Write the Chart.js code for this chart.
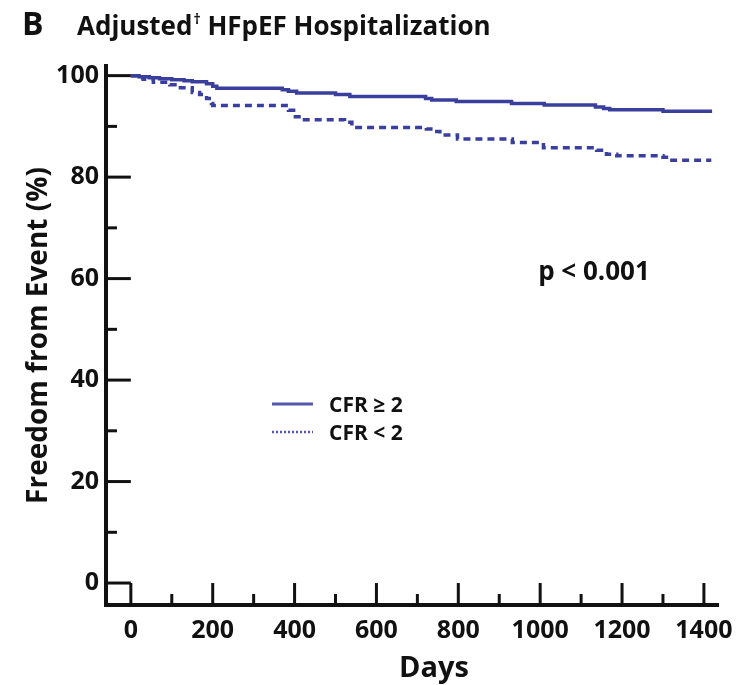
<!DOCTYPE html>
<html><head><meta charset="utf-8">
<script src="https://cdn.jsdelivr.net/npm/chart.js@4.4.0/dist/chart.umd.min.js"></script>
<style>html,body{margin:0;padding:0;background:#fff;}#wrap{width:744px;height:685px;}</style>
</head><body><div id="wrap"><canvas id="c" width="744" height="685"></canvas></div>
<script>
// ---- text ----
const panelLetter = 'B';
const titleMain = 'Adjusted';
const titleMark = '\u2020';
const titleRest = ' HFpEF Hospitalization';
const xAxisTitle = 'Days';
const yAxisTitle = 'Freedom from Event (%)';
const pValueText = 'p < 0.001';
const seriesNames = ['CFR \u2265 2', 'CFR < 2'];

// ---- ticks ----
const xTickValues = [0, 200, 400, 600, 800, 1000, 1200, 1400];
const yTickValues = [0, 20, 40, 60, 80, 100];
const xMinorTicks = [0, 100, 200, 300, 400, 500, 600, 700, 800, 900, 1000, 1100, 1200, 1300, 1400];
const yMinorTicks = [0, 10, 20, 30, 40, 50, 60, 70, 80, 90, 100];

// ---- series (Kaplan-Meier steps) ----
const daysHigh = [0, 20, 45, 70, 100, 130, 150, 185, 200, 210, 370, 385, 405, 500, 535, 720, 735, 795, 930, 1010, 1135, 1155, 1170, 1300, 1420];
const survHigh = [100, 99.8, 99.6, 99.4, 99.2, 99.0, 98.8, 98.4, 97.9, 97.5, 97.2, 96.9, 96.6, 96.3, 95.9, 95.5, 95.2, 94.9, 94.5, 94.2, 93.8, 93.5, 93.3, 93.0, 93.0];
const daysLow = [0, 15, 30, 55, 95, 115, 150, 168, 185, 197, 200, 385, 402, 418, 522, 540, 722, 738, 755, 798, 932, 1008, 1138, 1162, 1187, 1300, 1316, 1418];
const survLow = [100, 99.6, 99.3, 98.7, 98.2, 97.6, 96.7, 96.3, 95.5, 94.5, 94.1, 93.2, 91.9, 91.3, 90.8, 89.8, 89.5, 89.0, 88.3, 87.5, 86.8, 85.8, 85.3, 84.5, 84.2, 83.9, 83.3, 83.3];

const lineColor = '#3a3f9e';
const legendColor = '#5558b0';
const inkColor = '#111111';
const FONT = "'Open Sans', 'DejaVu Sans', sans-serif";

Chart.defaults.font.family = FONT;
Chart.defaults.color = inkColor;

const AXIS_X = 106;      // pixel of y-axis line

const decorPlugin = {
  id: 'decor',
  afterDraw(chart) {
    const ctx = chart.ctx;
    const xs = chart.scales.x, ys = chart.scales.y;
    const axX = xs.left, axY = ys.bottom;
    // inward tick marks
    ctx.save();
    ctx.strokeStyle = inkColor;
    ctx.lineWidth = 3;
    ctx.lineCap = 'butt';
    const majX = axY - ys.getPixelForValue(0);
    const majY = xs.getPixelForValue(0) - axX;
    xMinorTicks.forEach(v => {
      const px = xs.getPixelForValue(v);
      const len = xTickValues.includes(v) ? majX : 11;
      ctx.beginPath(); ctx.moveTo(px, axY); ctx.lineTo(px, axY - len); ctx.stroke();
    });
    yMinorTicks.forEach(v => {
      const py = ys.getPixelForValue(v);
      const len = yTickValues.includes(v) ? majY : 11;
      ctx.beginPath(); ctx.moveTo(axX, py); ctx.lineTo(axX + len, py); ctx.stroke();
    });
    ctx.restore();

    ctx.save();
    ctx.fillStyle = inkColor;
    ctx.textBaseline = 'alphabetic';
    ctx.textAlign = 'left';
    // panel letter and title
    ctx.font = `bold 32px ${FONT}`;
    ctx.fillText(panelLetter, 22, 35);
    ctx.font = `bold 26px ${FONT}`;
    let tx = 77;
    ctx.fillText(titleMain, tx, 35);
    tx += ctx.measureText(titleMain).width + 1;
    ctx.font = `bold 14px ${FONT}`;
    ctx.fillText(titleMark, tx, 24);
    tx += ctx.measureText(titleMark).width;
    ctx.font = `bold 26px ${FONT}`;
    ctx.fillText(titleRest, tx, 35);

    // x-axis title
    ctx.textAlign = 'center';
    ctx.textBaseline = 'middle';
    ctx.font = `bold 29px ${FONT}`;
    ctx.fillText(xAxisTitle, 434, 669);

    // p value
    ctx.font = `bold 26px ${FONT}`;
    ctx.fillText(pValueText, 594, 273);

    // legend
    ctx.textAlign = 'left';
    ctx.font = `bold 21px ${FONT}`;
    const ds = chart.data.datasets;
    const rows = [404, 432];
    rows.forEach((ry, i) => {
      ctx.save();
      ctx.strokeStyle = legendColor;
      if (i === 0) { ctx.lineWidth = 3; ctx.setLineDash([]); }
      else { ctx.lineWidth = 2.5; ctx.setLineDash([2, 2]); }
      ctx.beginPath(); ctx.moveTo(272, ry); ctx.lineTo(313, ry); ctx.stroke();
      ctx.restore();
      ctx.fillText(ds[i].label, 329, ry + 2);
    });
    ctx.restore();
  }
};

new Chart(document.getElementById('c'), {
  type: 'line',
  data: {
    datasets: [
      {
        label: seriesNames[0],
        data: daysHigh.map((d, i) => ({ x: d, y: survHigh[i] })),
        borderColor: lineColor,
        borderWidth: 3.5,
        stepped: 'before',
        pointRadius: 0,
        fill: false
      },
      {
        label: seriesNames[1],
        data: daysLow.map((d, i) => ({ x: d, y: survLow[i] })),
        borderColor: lineColor,
        borderWidth: 3.5,
        borderDash: [7, 5],
        stepped: 'before',
        pointRadius: 0,
        fill: false
      }
    ]
  },
  options: {
    responsive: false,
    animation: false,
    devicePixelRatio: 1,
    layout: { padding: { left: 0, right: 21, top: 66, bottom: 0 } },
    plugins: { legend: { display: false }, tooltip: { enabled: false }, title: { display: false } },
    scales: {
      x: {
        type: 'linear',
        min: -60.7,
        max: 1436,
        afterFit: s => { s.height = 80; },
        afterBuildTicks: s => { s.ticks = xTickValues.map(v => ({ value: v })); },
        grid: { display: false, drawTicks: false },
        border: { display: true, color: inkColor, width: 4 },
        ticks: { autoSkip: false, maxRotation: 0, padding: 11, color: inkColor, font: { size: 25, weight: 'bold' }, callback: v => String(v) }
      },
      y: {
        type: 'linear',
        min: -4.33,
        max: 101.9,
        afterFit: s => { s.width = AXIS_X; },
        afterBuildTicks: s => { s.ticks = yTickValues.map(v => ({ value: v })); },
        grid: { display: false, drawTicks: false },
        border: { display: true, color: inkColor, width: 4 },
        ticks: { padding: 7, color: inkColor, font: { size: 25, weight: 'bold' }, callback: v => String(v) },
        title: { display: true, text: yAxisTitle, color: inkColor, padding: { top: 22 }, font: { size: 28, weight: 'bold' } }
      }
    }
  },
  plugins: [decorPlugin]
});
</script>
</body></html>
